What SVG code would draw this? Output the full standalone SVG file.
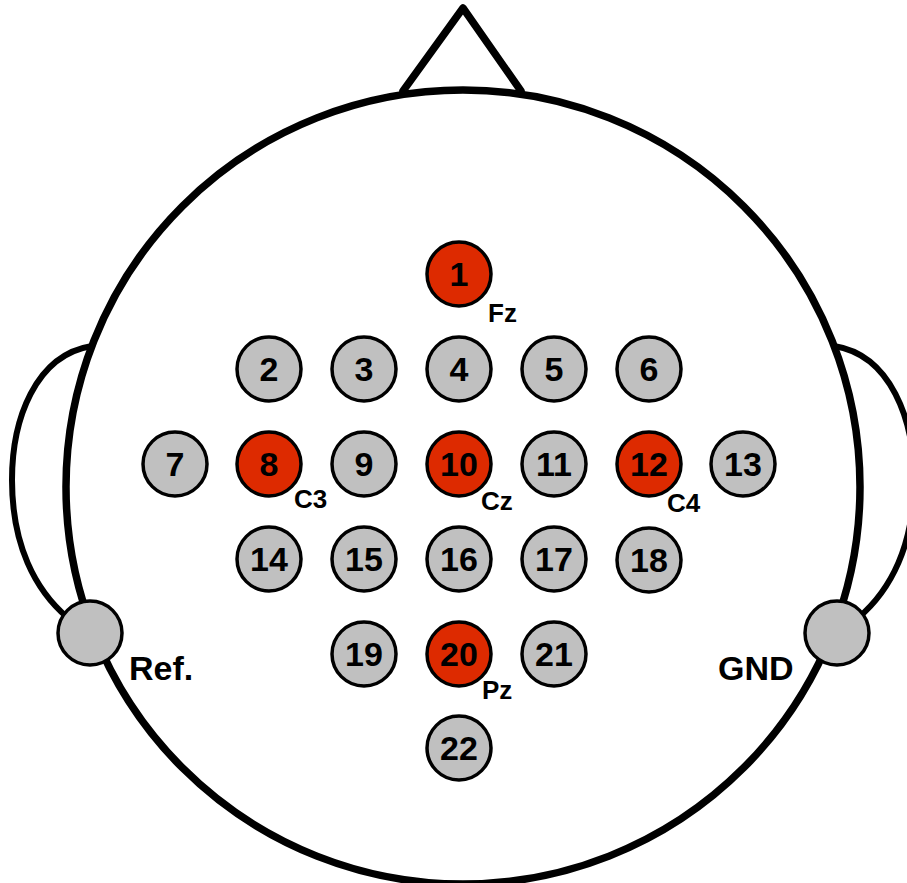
<svg xmlns="http://www.w3.org/2000/svg" width="907" height="883" viewBox="0 0 907 883">
<style>
.line{fill:none;stroke:#000;stroke-width:7.5;stroke-linejoin:round;stroke-linecap:round}
.ear{fill:none;stroke:#000;stroke-width:6}
.e{stroke:#000;stroke-width:3.5}
.g{fill:#c0c0c0}
.r{fill:#dd2a00}
.n{font-family:"Liberation Sans",Arial,sans-serif;font-size:34px;font-weight:bold;text-anchor:middle;fill:#000}
.l{font-family:"Liberation Sans",Arial,sans-serif;font-size:26px;font-weight:bold;fill:#000}
.big{font-family:"Liberation Sans",Arial,sans-serif;font-size:34px;font-weight:bold;fill:#000}
</style>
<rect width="907" height="883" fill="#fff"/>
<g id="head">
<circle cx="463" cy="487" r="397" class="line"/>
<polyline points="403,91 463,8 521,91" class="line"/>
<path class="ear" d="M 92 346 C 35 355, 12 420, 12 480 C 12 545, 35 590, 68 618"/>
<path class="ear" d="M 834 346 C 891 355, 914 420, 914 480 C 914 545, 891 590, 858 618"/>
</g>
<g id="connectors"></g>
<g id="ref"><circle cx="90" cy="633" r="32" class="e g"/><text x="129" y="680" class="big">Ref.</text></g>
<g id="gnd"><circle cx="837" cy="633" r="32" class="e g"/><text x="718" y="680" class="big">GND</text></g>
<g id="n1"><circle cx="459" cy="274" r="32" class="e r"/><text x="459" y="286" class="n">1</text><text x="488" y="322" class="l">Fz</text></g>
<g id="n2"><circle cx="269" cy="369" r="32" class="e g"/><text x="269" y="381" class="n">2</text></g>
<g id="n3"><circle cx="364" cy="369" r="32" class="e g"/><text x="364" y="381" class="n">3</text></g>
<g id="n4"><circle cx="459" cy="369" r="32" class="e g"/><text x="459" y="381" class="n">4</text></g>
<g id="n5"><circle cx="554" cy="369" r="32" class="e g"/><text x="554" y="381" class="n">5</text></g>
<g id="n6"><circle cx="649" cy="369" r="32" class="e g"/><text x="649" y="381" class="n">6</text></g>
<g id="n7"><circle cx="175" cy="464" r="32" class="e g"/><text x="175" y="476" class="n">7</text></g>
<g id="n8"><circle cx="269" cy="464" r="32" class="e r"/><text x="269" y="476" class="n">8</text><text x="294" y="508" class="l">C3</text></g>
<g id="n9"><circle cx="364" cy="464" r="32" class="e g"/><text x="364" y="476" class="n">9</text></g>
<g id="n10"><circle cx="459" cy="464" r="32" class="e r"/><text x="459" y="476" class="n">10</text><text x="481" y="510" class="l">Cz</text></g>
<g id="n11"><circle cx="554" cy="464" r="32" class="e g"/><text x="554" y="476" class="n">11</text></g>
<g id="n12"><circle cx="649" cy="464" r="32" class="e r"/><text x="649" y="476" class="n">12</text><text x="667" y="512" class="l">C4</text></g>
<g id="n13"><circle cx="743" cy="464" r="32" class="e g"/><text x="743" y="476" class="n">13</text></g>
<g id="n14"><circle cx="269" cy="559" r="32" class="e g"/><text x="269" y="571" class="n">14</text></g>
<g id="n15"><circle cx="364" cy="559" r="32" class="e g"/><text x="364" y="571" class="n">15</text></g>
<g id="n16"><circle cx="459" cy="559" r="32" class="e g"/><text x="459" y="571" class="n">16</text></g>
<g id="n17"><circle cx="554" cy="559" r="32" class="e g"/><text x="554" y="571" class="n">17</text></g>
<g id="n18"><circle cx="649" cy="560" r="32" class="e g"/><text x="649" y="572" class="n">18</text></g>
<g id="n19"><circle cx="364" cy="654" r="32" class="e g"/><text x="364" y="666" class="n">19</text></g>
<g id="n20"><circle cx="459" cy="654" r="32" class="e r"/><text x="459" y="666" class="n">20</text><text x="482" y="699" class="l">Pz</text></g>
<g id="n21"><circle cx="554" cy="654" r="32" class="e g"/><text x="554" y="666" class="n">21</text></g>
<g id="n22"><circle cx="459" cy="748" r="32" class="e g"/><text x="459" y="760" class="n">22</text></g>
</svg>
